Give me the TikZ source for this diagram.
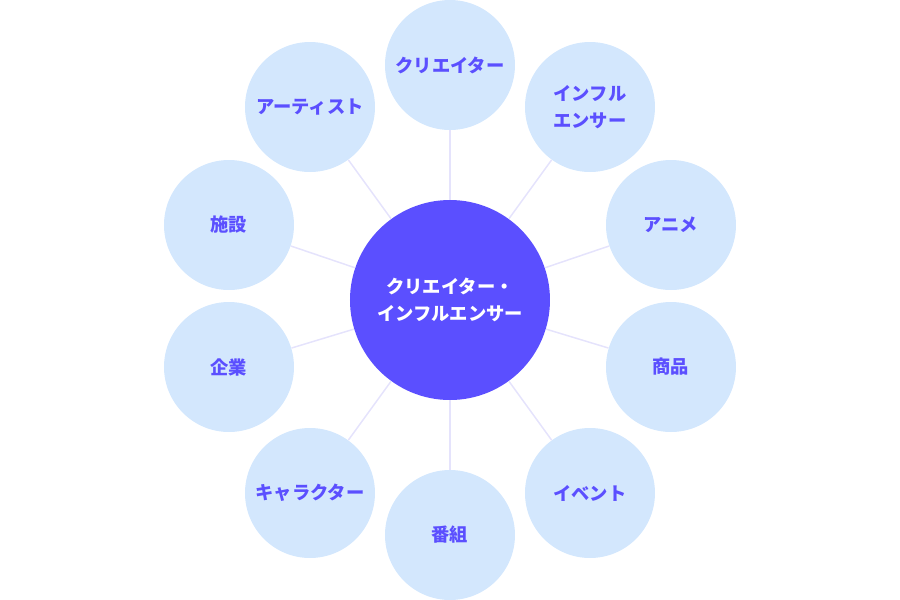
\documentclass[tikz,border=0pt]{standalone}
\usepackage{fontspec}
\setmainfont{Noto Sans CJK JP}
\definecolor{hubblue}{HTML}{5B4FFF}
\definecolor{leafblue}{HTML}{D3E7FD}
\definecolor{linkgray}{HTML}{E5E3FC}

\begin{document}
\begin{tikzpicture}[font=\bfseries\fontsize{10.4}{15.4}\selectfont,
  hub/.style={circle,fill=hubblue,text=white,minimum size=4cm,inner sep=0pt,align=center},
  leaf/.style={circle,fill=leafblue,text=hubblue,minimum size=2.6cm,inner sep=0pt,align=center},
  link/.style={linkgray,line width=0.85pt}]

  \useasboundingbox (-9cm,-6cm) rectangle (9cm,6cm);

  \node[hub] (C) at (0,0) {クリエイター・\\インフルエンサー};

  \node[leaf] (creator) at (0cm,4.7cm) {クリエイター};
  \node[leaf] (influ) at (2.8cm,3.86cm) {インフル\\エンサー};
  \node[leaf] (anime) at (4.42cm,1.5cm) {アニメ};
  \node[leaf] (goods) at (4.42cm,-1.34cm) {商品};
  \node[leaf] (event) at (2.8cm,-3.86cm) {イベント};
  \node[leaf] (program) at (0cm,-4.7cm) {番組};
  \node[leaf] (chara) at (-2.8cm,-3.86cm) {キャラクター};
  \node[leaf] (company) at (-4.42cm,-1.34cm) {企業};
  \node[leaf] (facility) at (-4.42cm,1.5cm) {施設};
  \node[leaf] (artist) at (-2.8cm,3.86cm) {アーティスト};

  \draw[link] (C) -- (creator);
  \draw[link] (C) -- (influ);
  \draw[link] (C) -- (anime);
  \draw[link] (C) -- (goods);
  \draw[link] (C) -- (event);
  \draw[link] (C) -- (program);
  \draw[link] (C) -- (chara);
  \draw[link] (C) -- (company);
  \draw[link] (C) -- (facility);
  \draw[link] (C) -- (artist);

\end{tikzpicture}
\end{document}
